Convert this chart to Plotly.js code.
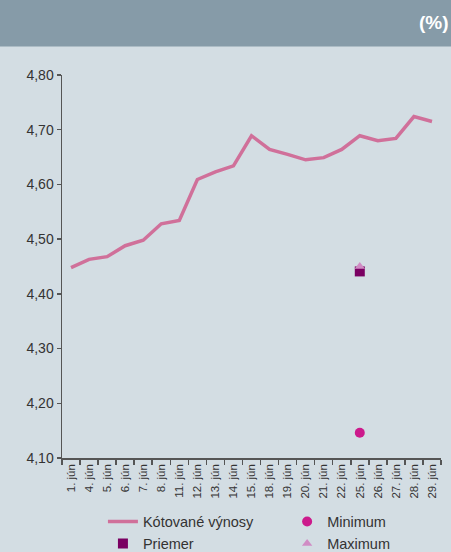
<!DOCTYPE html>
<html>
<head>
<meta charset="utf-8">
<script src="https://cdn.plot.ly/plotly-3.0.1.min.js"></script>
<style>
html,body{margin:0;padding:0;background:#d3dde3;}
#chart{width:451px;height:552px;}
</style>
</head>
<body>
<div id="chart"></div>
<script>
const days = ["1. jún","4. jún","5. jún","6. jún","7. jún","8. jún","11. jún","12. jún","13. jún","14. jún","15. jún","18. jún","19. jún","20. jún","21. jún","22. jún","25. jún","26. jún","27. jún","28. jún","29. jún"];
const quoted = [4.448,4.463,4.468,4.488,4.498,4.528,4.534,4.609,4.623,4.634,4.689,4.664,4.655,4.645,4.649,4.664,4.689,4.680,4.684,4.724,4.715];
const statDay = ["25. jún"];
const minimum = [4.146];
const average = [4.441];
const maximum = [4.450];

const traces = [
  {x: days, y: quoted, type: 'scatter', mode: 'lines', name: 'Kótované výnosy',
   line: {color: '#d0709a', width: 3.5}, legend: 'legend'},
  {x: statDay, y: minimum, type: 'scatter', mode: 'markers', name: 'Minimum',
   marker: {color: '#cc1a8c', symbol: 'circle', size: 10}, legend: 'legend2'},
  {x: statDay, y: average, type: 'scatter', mode: 'markers', name: 'Priemer',
   marker: {color: '#7a0062', symbol: 'square', size: 10}, legend: 'legend'},
  {x: statDay, y: maximum, type: 'scatter', mode: 'markers', name: 'Maximum',
   marker: {color: '#d08cc4', symbol: 'triangle-up', size: 9}, legend: 'legend2'}
];

const legendCommon = {
  orientation: 'v', xanchor: 'left',
  yref: 'container', y: 0.084, yanchor: 'top',
  font: {size: 14.5, color: '#333'},
  bgcolor: 'rgba(0,0,0,0)', tracegroupgap: 0, traceorder: 'normal'
};

const layout = {
  width: 451, height: 552,
  margin: {l: 62, r: 10, t: 75, b: 94},
  paper_bgcolor: '#d3dde3',
  plot_bgcolor: '#d3dde3',
  separators: ',.',
  font: {family: 'Liberation Sans, Arial, sans-serif', color: '#333'},
  showlegend: true,
  xaxis: {
    type: 'category', range: [-0.5, 20.5],
    showline: true, linecolor: '#555', linewidth: 1.5,
    ticks: 'outside', ticklen: 5, tickcolor: '#555', tickwidth: 1.5,
    tickson: 'boundaries', tickangle: -90,
    tickfont: {size: 11.5, color: '#333'},
    showgrid: false, zeroline: false, fixedrange: true
  },
  yaxis: {
    range: [4.1, 4.8], tickvals: [4.1,4.2,4.3,4.4,4.5,4.6,4.7,4.8],
    tickformat: '.2f',
    showline: true, linecolor: '#555', linewidth: 1.5,
    ticks: 'outside', ticklen: 4, tickcolor: '#555', tickwidth: 1.5,
    tickfont: {size: 14, color: '#333'},
    showgrid: false, zeroline: false, fixedrange: true
  },
  legend: Object.assign({}, legendCommon, {x: 0.108}),
  legend2: Object.assign({}, legendCommon, {x: 0.594}),
  shapes: [{
    type: 'rect', xref: 'paper', yref: 'paper',
    x0: -0.2, x1: 1.1, y0: (458.3-46.7)/383, y1: 1.25,
    fillcolor: '#869ba8', line: {width: 0}, layer: 'below'
  }],
  annotations: [{
    xref: 'paper', yref: 'paper', x: (451-62)/379, y: (458.3-23)/383,
    xanchor: 'right', yanchor: 'middle', showarrow: false,
    text: '<b>(%)</b>', font: {size: 19, color: '#ffffff', family: 'Liberation Sans, Arial, sans-serif'}
  }]
};

Plotly.newPlot('chart', traces, layout, {displayModeBar: false, staticPlot: true});
</script>
</body>
</html>
